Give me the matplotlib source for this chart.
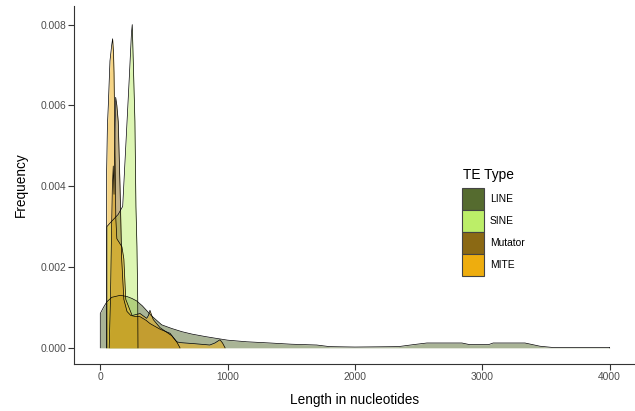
import matplotlib
matplotlib.use("Agg")
import matplotlib.pyplot as plt
from matplotlib.patches import Patch

plt.rcParams['font.family'] = ['Liberation Sans', 'DejaVu Sans']

# ---------------------------------------------------------------- data
types = ["LINE", "SINE", "Mutator", "MITE"]
colors = ["#556B2F", "#BCEE68", "#8B6914", "#EEAD0E"]

line_x = [0, 25, 52, 90, 157, 210, 250, 286, 330, 400, 482, 560, 641, 720, 823,
          900, 1000, 1150, 1333, 1500, 1700, 1800, 2000, 2340, 2460, 2565, 2840,
          2900, 3050, 3085, 3335, 3453, 3550, 4000]
line_y = [0.00085, 0.00100, 0.00114, 0.00125, 0.00130, 0.00127, 0.00122, 0.00116,
          0.00104, 0.00080, 0.00057, 0.00048, 0.00040, 0.00034, 0.00028,
          0.00024, 0.00019, 0.00015, 0.00012, 0.00009, 0.00007, 0.00003, 0.00002,
          0.00003, 0.00008, 0.00012, 0.00012, 0.00008, 0.00008, 0.00012, 0.00012,
          0.00004, 0.00001, 0.00001]

sine_x = [52, 80, 110, 140, 176, 202, 228, 245, 251, 259, 272, 280, 288, 294, 296]
sine_y = [0.0030, 0.0031, 0.0032, 0.0033, 0.0035, 0.0051, 0.0067, 0.0078, 0.0080,
          0.0071, 0.0056, 0.0035, 0.0025, 0.0012, 0.0]

mutator_x = [70, 80, 88, 95, 102, 108, 114, 121, 130, 141, 155, 168, 185, 210,
             240, 270, 313, 360, 391, 470, 548, 600, 626]
mutator_y = [0.0, 0.0012, 0.0028, 0.0040, 0.0045, 0.0038, 0.0050, 0.0062,
             0.0060, 0.0056, 0.0040, 0.0022, 0.0012, 0.0009,
             0.0008, 0.00078, 0.00077, 0.00068, 0.00060, 0.00046, 0.00036, 0.00015, 0.0]

mite_x = [50, 56, 63, 76, 90, 97, 104, 108, 115, 122, 130, 150, 170, 185, 200, 250, 312,
          364, 378, 390, 402, 416, 469, 561, 600, 626, 750, 860, 900, 940, 960, 980]
mite_y = [0.0044, 0.0055, 0.0060, 0.0071, 0.0075, 0.00765, 0.0073, 0.0068, 0.0050,
          0.0032, 0.0027, 0.0026, 0.0025, 0.0022, 0.0012, 0.0008, 0.00085,
          0.00073, 0.00080, 0.00093, 0.00082, 0.00070, 0.00050, 0.00030,
          0.00015, 0.00013, 0.00010, 0.00007, 0.00012, 0.00020, 0.00012, 0.0]

series = [(line_x, line_y), (sine_x, sine_y), (mutator_x, mutator_y), (mite_x, mite_y)]

# ---------------------------------------------------------------- figure
fig = plt.figure(figsize=(6.35, 4.11), dpi=100)
ax = fig.add_axes([74.3 / 635, 47 / 411, (635 - 74.3) / 635, 358 / 411])

for (xs, ys), c in zip(series, colors):
    ax.fill_between(xs, 0, ys, color=c, alpha=0.5, linewidth=0)
    ax.plot([xs[0]] + xs + [xs[-1]], [0] + ys + [0], color="black", lw=0.5)

ax.set_xlim(-204, 4199)
ax.set_ylim(-0.0004, 0.00846)
ax.set_xticks([0, 1000, 2000, 3000, 4000])
ax.set_yticks([0.0, 0.002, 0.004, 0.006, 0.008])
ax.set_yticklabels(["0.000", "0.002", "0.004", "0.006", "0.008"])

for s in ["top", "right"]:
    ax.spines[s].set_visible(False)
for s in ["left", "bottom"]:
    ax.spines[s].set_color("#333333")
    ax.spines[s].set_linewidth(0.8)
ax.tick_params(length=4, width=0.8, color="#333333", labelcolor="#4D4D4D",
               labelsize=7.4, pad=2)

ax.set_xlabel("Length in nucleotides", fontsize=9.8, color="black")
ax.set_ylabel("Frequency", fontsize=9.8, color="black")
ax.xaxis.set_label_coords((355 - 74.3) / 560.7, (364 - 400) / 358)
ax.xaxis.label.set_va("center")
ax.yaxis.set_label_coords((21 - 74.3) / 560.7, 0.5)
ax.yaxis.label.set_va("center")

# legend: title as its own text, keys stacked below
fig.text(463 / 635, 1 - 175 / 411, "TE Type", fontsize=9.9, ha="left", va="center")
handles = [Patch(facecolor=c, edgecolor="#444444", linewidth=0.8) for c in colors]
leg = ax.legend(handles, types, loc="upper left",
                bbox_to_anchor=(462 / 635, 1 - 187.7 / 411), bbox_transform=fig.transFigure,
                frameon=False, fontsize=7.4, borderpad=0,
                handlelength=2.14, handleheight=2.92, handletextpad=0.55,
                labelspacing=0.0, borderaxespad=0)

fig.savefig("out.png", dpi=100)
